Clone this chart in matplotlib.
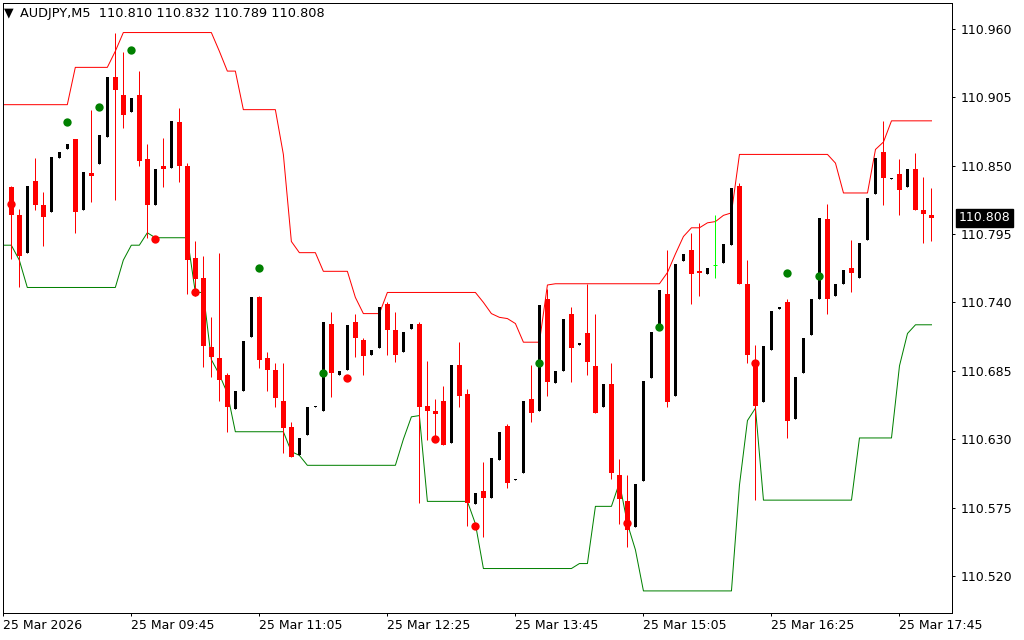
import matplotlib
matplotlib.use("Agg")
import matplotlib.pyplot as plt
import numpy as np
from matplotlib.transforms import blended_transform_factory

symbol = "AUDJPY,M5"
header_ohlc = ["110.810", "110.832", "110.789", "110.808"]
last_price = 110.808

# bars 1..116 (5-minute bars starting 08:30)
opens = [110.833, 110.810, 110.780, 110.838, 110.818, 110.813, 110.856, 110.863, 110.871, 110.814,
         110.844, 110.851, 110.873, 110.921, 110.907, 110.893, 110.907, 110.855, 110.818, 110.850,
         110.848, 110.885, 110.850, 110.776, 110.760, 110.704, 110.695, 110.682, 110.654, 110.669,
         110.712, 110.744, 110.695, 110.686, 110.661, 110.640, 110.617, 110.633, 110.656, 110.653,
         110.723, 110.682, 110.686, 110.724, 110.710, 110.698, 110.703, 110.739, 110.718, 110.700,
         110.719, 110.723, 110.657, 110.653, 110.661, 110.627, 110.690, 110.666, 110.578, 110.588,
         110.583, 110.613, 110.641, 110.597, 110.603, 110.662, 110.653, 110.743, 110.675, 110.685,
         110.731, 110.706, 110.715, 110.689, 110.656, 110.674, 110.601, 110.580, 110.559, 110.596,
         110.679, 110.720, 110.747, 110.665, 110.773, 110.782, 110.765, 110.763, 110.770, 110.772,
         110.786, 110.834, 110.755, 110.694, 110.660, 110.702, 110.735, 110.740, 110.646, 110.683,
         110.714, 110.743, 110.807, 110.745, 110.755, 110.768, 110.760, 110.790, 110.827, 110.861,
         110.839, 110.843, 110.833, 110.847, 110.814, 110.810]
highs = [110.834, 110.815, 110.834, 110.856, 110.829, 110.857, 110.861, 110.867, 110.871, 110.845,
         110.895, 110.875, 110.921, 110.957, 110.941, 110.904, 110.926, 110.867, 110.847, 110.872,
         110.886, 110.896, 110.852, 110.789, 110.777, 110.728, 110.780, 110.683, 110.669, 110.709,
         110.744, 110.745, 110.700, 110.691, 110.691, 110.644, 110.631, 110.656, 110.657, 110.724,
         110.732, 110.685, 110.722, 110.731, 110.711, 110.702, 110.736, 110.740, 110.732, 110.716,
         110.723, 110.724, 110.693, 110.662, 110.673, 110.690, 110.708, 110.670, 110.587, 110.612,
         110.615, 110.636, 110.642, 110.598, 110.661, 110.690, 110.738, 110.751, 110.685, 110.727,
         110.736, 110.707, 110.755, 110.731, 110.674, 110.691, 110.614, 110.601, 110.594, 110.677,
         110.716, 110.750, 110.782, 110.771, 110.779, 110.796, 110.804, 110.768, 110.810, 110.787,
         110.832, 110.836, 110.774, 110.706, 110.705, 110.733, 110.736, 110.743, 110.680, 110.711,
         110.743, 110.808, 110.819, 110.755, 110.766, 110.790, 110.788, 110.824, 110.856, 110.886,
         110.840, 110.855, 110.847, 110.860, 110.841, 110.832]
lows = [110.775, 110.752, 110.780, 110.814, 110.785, 110.813, 110.856, 110.863, 110.796, 110.814,
        110.821, 110.851, 110.873, 110.822, 110.880, 110.893, 110.850, 110.792, 110.818, 110.833,
        110.848, 110.837, 110.747, 110.745, 110.688, 110.680, 110.661, 110.636, 110.654, 110.669,
        110.712, 110.687, 110.669, 110.656, 110.619, 110.616, 110.617, 110.633, 110.656, 110.653,
        110.664, 110.682, 110.686, 110.696, 110.682, 110.698, 110.703, 110.698, 110.692, 110.700,
        110.719, 110.579, 110.629, 110.632, 110.625, 110.627, 110.656, 110.560, 110.578, 110.551,
        110.583, 110.613, 110.591, 110.597, 110.603, 110.644, 110.653, 110.665, 110.675, 110.685,
        110.676, 110.706, 110.682, 110.651, 110.656, 110.598, 110.562, 110.543, 110.559, 110.596,
        110.679, 110.720, 110.656, 110.665, 110.773, 110.739, 110.745, 110.763, 110.760, 110.772,
        110.786, 110.755, 110.691, 110.581, 110.660, 110.702, 110.735, 110.631, 110.646, 110.683,
        110.714, 110.743, 110.731, 110.745, 110.755, 110.748, 110.760, 110.790, 110.827, 110.818,
        110.839, 110.810, 110.833, 110.814, 110.788, 110.789]
closes = [110.810, 110.777, 110.834, 110.818, 110.809, 110.857, 110.861, 110.867, 110.813, 110.845,
          110.842, 110.875, 110.921, 110.911, 110.891, 110.904, 110.854, 110.818, 110.847, 110.847,
          110.886, 110.850, 110.774, 110.759, 110.705, 110.696, 110.678, 110.656, 110.669, 110.709,
          110.744, 110.694, 110.686, 110.663, 110.639, 110.616, 110.631, 110.656, 110.657, 110.724,
          110.683, 110.685, 110.722, 110.711, 110.697, 110.702, 110.736, 110.718, 110.698, 110.716,
          110.723, 110.656, 110.653, 110.650, 110.625, 110.690, 110.665, 110.579, 110.587, 110.583,
          110.615, 110.636, 110.595, 110.598, 110.661, 110.651, 110.738, 110.676, 110.685, 110.727,
          110.703, 110.707, 110.692, 110.651, 110.674, 110.603, 110.582, 110.557, 110.594, 110.677,
          110.716, 110.750, 110.660, 110.771, 110.779, 110.763, 110.764, 110.768, 110.770, 110.787,
          110.832, 110.755, 110.698, 110.657, 110.705, 110.733, 110.736, 110.645, 110.680, 110.711,
          110.743, 110.808, 110.743, 110.755, 110.766, 110.764, 110.788, 110.824, 110.856, 110.840,
          110.840, 110.830, 110.847, 110.814, 110.811, 110.808]

# channel lines, bars 0..116
upper = [110.899, 110.899, 110.899, 110.899, 110.899, 110.899, 110.899, 110.899, 110.899, 110.929,
         110.929, 110.929, 110.929, 110.929, 110.942, 110.957, 110.957, 110.957, 110.957, 110.957,
         110.957, 110.957, 110.957, 110.957, 110.957, 110.957, 110.957, 110.942, 110.926, 110.926,
         110.895, 110.895, 110.895, 110.895, 110.895, 110.859, 110.789, 110.780, 110.780, 110.780,
         110.765, 110.765, 110.765, 110.765, 110.744, 110.731, 110.731, 110.731, 110.748, 110.748,
         110.748, 110.748, 110.748, 110.748, 110.748, 110.748, 110.748, 110.748, 110.748, 110.748,
         110.740, 110.731, 110.728, 110.727, 110.723, 110.708, 110.708, 110.708, 110.754, 110.755,
         110.755, 110.755, 110.755, 110.755, 110.755, 110.755, 110.755, 110.755, 110.755, 110.755,
         110.755, 110.755, 110.755, 110.764, 110.779, 110.793, 110.800, 110.800, 110.804, 110.805,
         110.810, 110.812, 110.859, 110.859, 110.859, 110.859, 110.859, 110.859, 110.859, 110.859,
         110.859, 110.859, 110.859, 110.859, 110.852, 110.828, 110.828, 110.828, 110.828, 110.863,
         110.869, 110.886, 110.886, 110.886, 110.886, 110.886, 110.886]
lower = [110.786, 110.786, 110.774, 110.752, 110.752, 110.752, 110.752, 110.752, 110.752, 110.752,
         110.752, 110.752, 110.752, 110.752, 110.752, 110.774, 110.786, 110.786, 110.796, 110.792,
         110.792, 110.792, 110.792, 110.792, 110.748, 110.748, 110.694, 110.682, 110.667, 110.636,
         110.636, 110.636, 110.636, 110.636, 110.636, 110.636, 110.620, 110.617, 110.609, 110.609,
         110.609, 110.609, 110.609, 110.609, 110.609, 110.609, 110.609, 110.609, 110.609, 110.609,
         110.630, 110.648, 110.649, 110.580, 110.580, 110.580, 110.580, 110.580, 110.580, 110.562,
         110.526, 110.526, 110.526, 110.526, 110.526, 110.526, 110.526, 110.526, 110.526, 110.526,
         110.526, 110.526, 110.530, 110.530, 110.576, 110.576, 110.576, 110.595, 110.562, 110.541,
         110.508, 110.508, 110.508, 110.508, 110.508, 110.508, 110.508, 110.508, 110.508, 110.508,
         110.508, 110.508, 110.593, 110.645, 110.655, 110.581, 110.581, 110.581, 110.581, 110.581,
         110.581, 110.581, 110.581, 110.581, 110.581, 110.581, 110.581, 110.631, 110.631, 110.631,
         110.631, 110.631, 110.689, 110.715, 110.722, 110.722, 110.722]

green_dot_bars = [8, 12, 16, 32, 40, 67, 82, 98, 102]
green_dot_vals = [110.885, 110.897, 110.943, 110.768, 110.683, 110.691, 110.720, 110.764, 110.761]
red_dot_bars = [1, 19, 24, 43, 54, 59, 78, 94]
red_dot_vals = [110.819, 110.791, 110.748, 110.679, 110.630, 110.560, 110.563, 110.691]

x_tick_bars = [0, 16, 32, 48, 64, 80, 96, 112]
x_tick_labels = ["25 Mar 2026", "25 Mar 09:45", "25 Mar 11:05", "25 Mar 12:25",
                 "25 Mar 13:45", "25 Mar 15:05", "25 Mar 16:25", "25 Mar 17:45"]
y_ticks = [110.520, 110.575, 110.630, 110.685, 110.740, 110.795, 110.850, 110.905, 110.960]

W, H = 1024, 640
fig = plt.figure(figsize=(W / 100, H / 100), dpi=100)
ax = fig.add_axes([2.7 / W, 1 - 613.3 / H, (952.3 - 2.7) / W, (613.3 - 2.7) / H])
PX = 0.72  # one pixel in points

bars = np.arange(1, len(opens) + 1)
line_x = np.arange(0, len(upper))

ax.plot(line_x, upper, color="#ff0000", lw=PX, zorder=2)
ax.plot(line_x, lower, color="#008000", lw=PX, zorder=2)

bull_w, bear_w = 0.36, 0.62
min_h = 0.0009
for x, o, h, l, c in zip(bars, opens, highs, lows, closes):
    if c > o:
        ax.vlines(x, l, h, color="black", lw=PX, zorder=3)
        ax.bar(x, max(c - o, min_h), bottom=o, width=bull_w, color="black", lw=0, zorder=3)
    elif c < o:
        ax.vlines(x, l, h, color="#ff0000", lw=PX, zorder=3)
        ax.bar(x, max(o - c, min_h), bottom=c, width=bear_w, color="#ff0000", lw=0, zorder=3)
    else:
        ax.vlines(x, l, h, color="#00ff00", lw=PX, zorder=3)
        ax.hlines(o, x - 0.25, x + 0.25, color="#00ff00", lw=PX, zorder=3)

ax.plot(green_dot_bars, green_dot_vals, "o", color="#008000", ms=6.0, mew=0, zorder=4)
ax.plot(red_dot_bars, red_dot_vals, "o", color="#ff0000", ms=6.0, mew=0, zorder=4)

ax.set_xlim(-0.075, 118.6)
ax.set_ylim(110.490, 110.981)

ax.set_xticks(x_tick_bars)
ax.set_xticklabels(x_tick_labels, ha="left")
ax.yaxis.tick_right()
ax.set_yticks(y_ticks)
ax.set_yticklabels([f"{v:.3f}" for v in y_ticks])
ax.tick_params(axis="both", direction="out", length=3 * PX, width=PX, labelsize=9,
               colors="black")
ax.tick_params(axis="x", pad=2)
ax.tick_params(axis="y", pad=4)
for sp in ax.spines.values():
    sp.set_linewidth(PX)
    sp.set_color("black")

tr = blended_transform_factory(ax.transAxes, ax.transData)
ax.annotate(f"{last_price:.3f}", xy=(1, last_price), xycoords=tr, xytext=(4.5, 0),
            textcoords="offset points", ha="left", va="center", fontsize=9, color="white",
            bbox=dict(boxstyle="square,pad=0.22", facecolor="black", edgecolor="black"),
            annotation_clip=False, zorder=5)

fig.text(4 / W, 1 - 13 / H, "\u25bc", fontsize=9, va="center", ha="left")
fig.text(20 / W, 1 - 13 / H, symbol + "  " + " ".join(header_ohlc), fontsize=9.3,
         va="center", ha="left")

fig.savefig("out.png", dpi=100)
